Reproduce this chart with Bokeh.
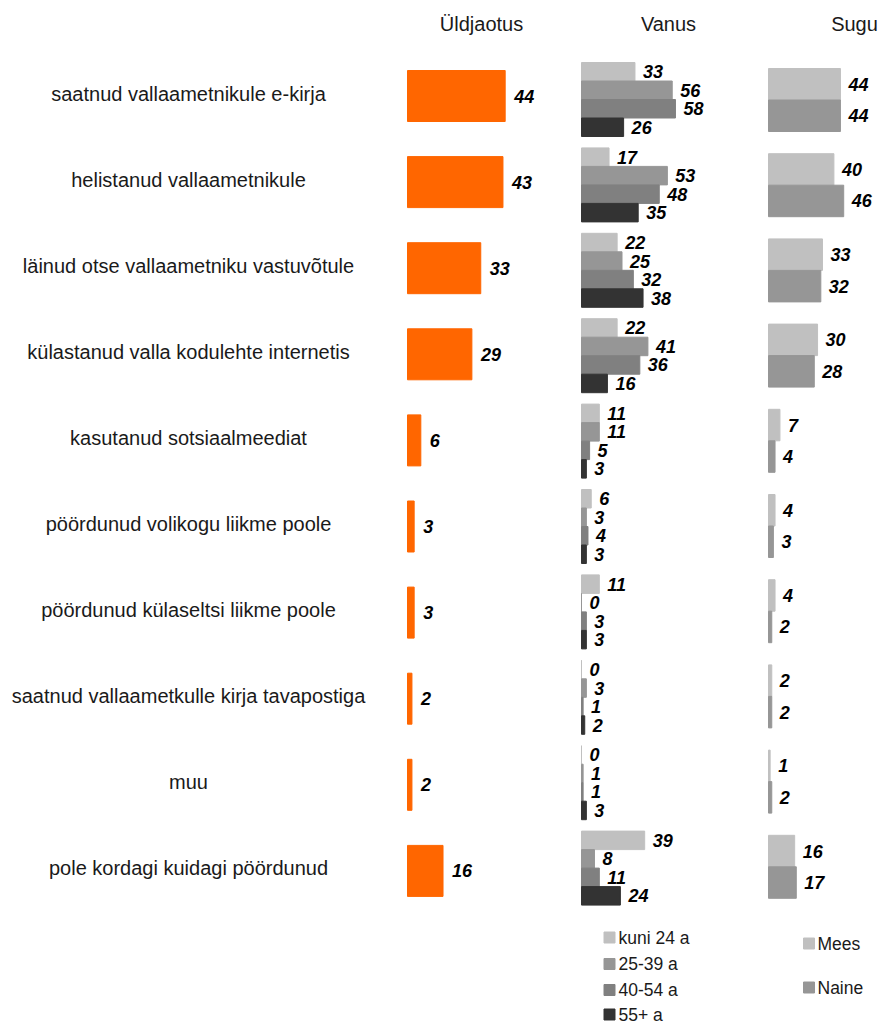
from bokeh.plotting import figure
from bokeh.models import Range1d, ColumnDataSource
from bokeh.core.properties import value
from bokeh.embed import file_html
from bokeh.resources import INLINE

# ---------------- data ----------------
categories = [
    "saatnud vallaametnikule e-kirja",
    "helistanud vallaametnikule",
    "läinud otse vallaametniku vastuvõtule",
    "külastanud valla kodulehte internetis",
    "kasutanud sotsiaalmeediat",
    "pöördunud volikogu liikme poole",
    "pöördunud külaseltsi liikme poole",
    "saatnud vallaametkulle kirja tavapostiga",
    "muu",
    "pole kordagi kuidagi pöördunud",
]
total = [44, 43, 33, 29, 6, 3, 3, 2, 2, 16]

age_groups = ["kuni 24 a", "25-39 a", "40-54 a", "55+ a"]
age_kuni24 = [33, 17, 22, 22, 11, 6, 11, 0, 0, 39]
age_25_39 = [56, 53, 25, 41, 11, 3, 0, 3, 1, 8]
age_40_54 = [58, 48, 32, 36, 5, 4, 3, 1, 1, 11]
age_55plus = [26, 35, 38, 16, 3, 3, 3, 2, 3, 24]

sex_groups = ["Mees", "Naine"]
sex_mees = [44, 40, 33, 30, 7, 4, 4, 2, 1, 16]
sex_naine = [44, 46, 32, 28, 4, 3, 2, 2, 2, 17]

panel_titles = ["Üldjaotus", "Vanus", "Sugu"]

# ---------------- styles ----------------
ORANGE = "#FF6600"
AGE_COLORS = ["#C0C0C0", "#969696", "#808080", "#333333"]
SEX_COLORS = ["#C0C0C0", "#969696"]
FONT = value("Liberation Sans")

W, H = 882, 1025
LEFT, TOP = 0, 0

p = figure(width=W, height=H, output_backend="svg", toolbar_location=None,
           x_range=Range1d(LEFT, LEFT + W), y_range=Range1d(TOP + H, TOP),
           x_axis_location=None, y_axis_location=None, min_border=0,
           tools="")
p.outline_line_color = None
p.grid.visible = False


def panel_range(zero_px, px_per_unit):
    return Range1d(-(zero_px - LEFT) / px_per_unit, (LEFT + W - zero_px) / px_per_unit)


p.extra_x_ranges = {
    "tot": panel_range(407, 2.22),
    "age": panel_range(581, 1.62),
    "sex": panel_range(768, 1.635),
}

n = len(categories)
label_style = dict(text_font=FONT, text_font_size="18px", text_font_style="bold italic",
                   text_baseline="middle", text_align="left", text_color="black")

# category labels
cat_y = [93 + 86.1 * i for i in range(n)]
p.text(x=[188] * n, y=cat_y, text=categories, text_font=FONT, text_font_size="20px",
       text_align="center", text_baseline="middle", text_color="#1a1a1a")

# headers
p.text(x=[481, 668, 854], y=[23, 23, 23], text=panel_titles, text_font=FONT,
       text_font_size="20px", text_align="center", text_baseline="middle",
       text_color="#1a1a1a")

# total panel
tot_y = [95.5 + 86.1 * i for i in range(n)]
src = ColumnDataSource(dict(y=tot_y, v=total, t=[str(v) for v in total]))
p.hbar(y="y", left=0, right="v", height=51, source=src, color=ORANGE,
       x_range_name="tot")
p.text(x="v", y="y", text="t", source=src, x_offset=9, x_range_name="tot", **label_style)

# age panel
age_series = [age_kuni24, age_25_39, age_40_54, age_55plus]
h_age = 18.5
for k, (vals, col) in enumerate(zip(age_series, AGE_COLORS)):
    ys = [99 + 85.4 * i + (k - 1.5) * h_age for i in range(n)]
    s = ColumnDataSource(dict(y=ys, v=vals, t=[str(v) for v in vals]))
    p.hbar(y="y", left=0, right="v", height=h_age, source=s, color=col,
           x_range_name="age")
    p.text(x="v", y="y", text="t", source=s, x_offset=8, x_range_name="age", **label_style)

# sex panel
sex_series = [sex_mees, sex_naine]
h_sex = 31.5
for k, (vals, col) in enumerate(zip(sex_series, SEX_COLORS)):
    ys = [99.5 + 85.2 * i + (k - 0.5) * h_sex for i in range(n)]
    s = ColumnDataSource(dict(y=ys, v=vals, t=[str(v) for v in vals]))
    p.hbar(y="y", left=0, right="v", height=h_sex, source=s, color=col,
           x_range_name="sex")
    p.text(x="v", y="y", text="t", source=s, x_offset=8, x_range_name="sex", **label_style)

# legends
age_leg_y = [937, 963.5, 989.5, 1014]
p.rect(x=[609] * 4, y=age_leg_y, width=11, height=11, color=AGE_COLORS)
p.text(x=[618] * 4, y=age_leg_y, text=age_groups, text_font=FONT, text_font_size="17.5px",
       text_baseline="middle", text_align="left", text_color="#1a1a1a")

sex_leg_y = [943, 987]
p.rect(x=[808.5] * 2, y=sex_leg_y, width=11, height=11, color=SEX_COLORS)
p.text(x=[817] * 2, y=sex_leg_y, text=sex_groups, text_font=FONT, text_font_size="17.5px",
       text_baseline="middle", text_align="left", text_color="#1a1a1a")

open("out.html", "w").write(file_html(p, INLINE))
